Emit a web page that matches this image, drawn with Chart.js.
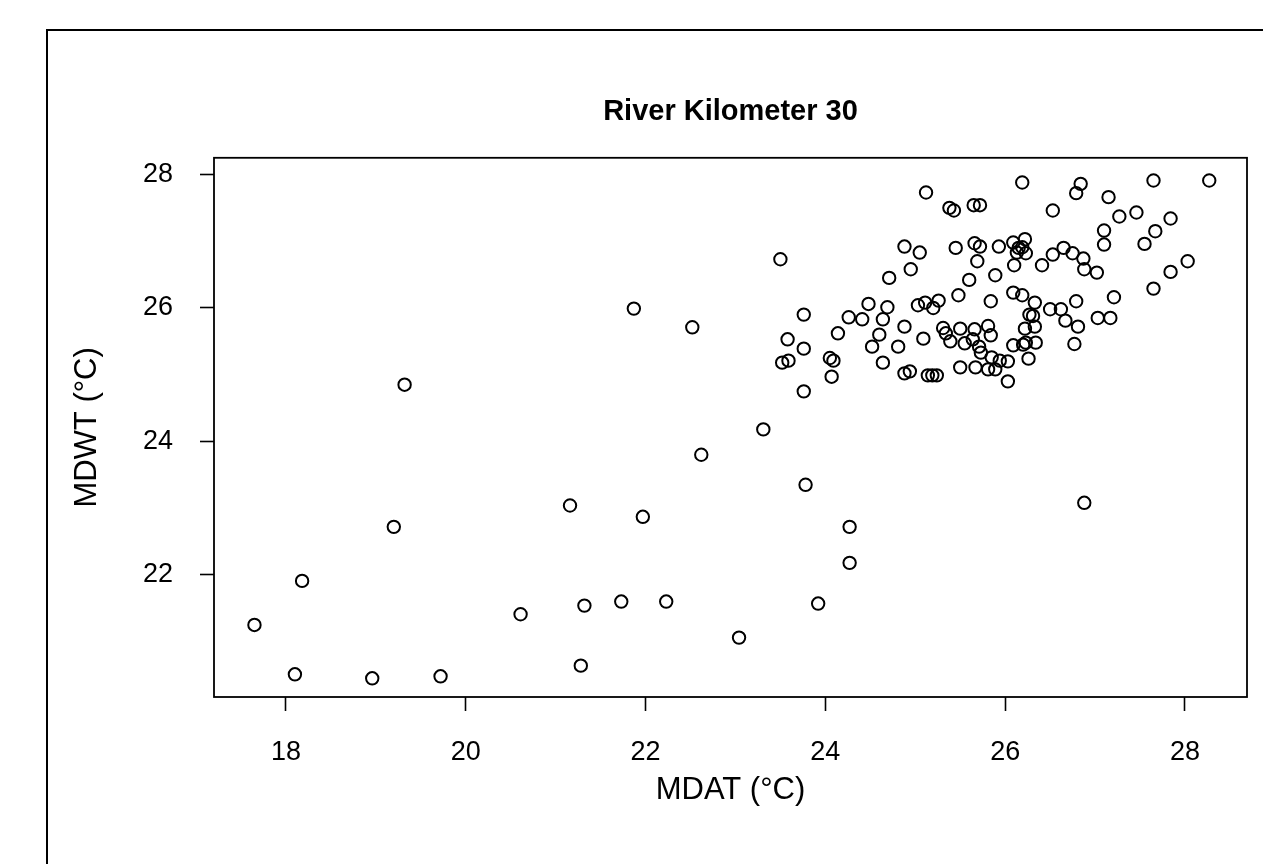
<!DOCTYPE html>
<html>
<head>
<meta charset="utf-8">
<script src="https://cdn.jsdelivr.net/npm/chart.js@4"></script>
<style>
  html, body { margin: 0; padding: 0; background: #fff; }
  #wrap { width: 1263px; height: 864px; }
</style>
</head>
<body>
<div id="wrap"><canvas id="c" width="1263" height="864"></canvas></div>
<script>
const chartTitle = 'River Kilometer 30';
const xLabel = 'MDAT (°C)';
const yLabel = 'MDWT (°C)';
const xTicks = [18, 20, 22, 24, 26, 28];
const yTicks = [22, 24, 26, 28];

const mdat = [
  17.65, 18.10, 18.18, 18.96, 19.20, 19.32, 19.72, 20.61, 21.16, 21.28,
  21.32, 21.73, 21.87, 21.97, 22.23, 22.52, 22.62, 23.04, 23.31, 23.50,
  23.78, 23.92, 24.27, 24.27, 26.88, 23.52, 23.59, 23.58, 23.76, 23.76,
  23.76, 24.05, 24.09, 24.07, 24.14, 24.26, 24.41, 24.48, 24.52, 24.60,
  24.64, 24.64, 24.69, 24.71, 24.81, 24.88, 24.88, 24.94, 24.88, 24.95,
  25.05, 25.12, 25.38, 25.43, 25.65, 25.72, 26.19, 25.45, 25.66, 25.72,
  25.69, 25.93, 26.09, 26.15, 26.22, 26.23, 26.13, 26.10, 25.89, 25.60,
  25.48, 25.84, 26.09, 26.19, 26.33, 26.31, 26.33, 26.22, 25.03, 25.11,
  25.20, 25.26, 25.09, 25.31, 25.34, 25.50, 25.66, 25.81, 25.84, 25.39,
  25.55, 25.64, 25.71, 25.73, 25.85, 25.94, 26.03, 26.09, 26.20, 26.26,
  25.50, 25.67, 25.81, 25.89, 26.03, 25.14, 25.19, 25.24, 26.19, 26.41,
  26.53, 26.65, 26.75, 26.87, 26.88, 27.02, 26.50, 26.62, 26.79, 27.21,
  27.03, 27.17, 26.67, 26.81, 26.23, 26.34, 26.77, 26.27, 26.84, 26.79,
  27.15, 26.53, 27.27, 27.46, 27.10, 27.10, 27.55, 27.67, 27.84, 27.65,
  28.27, 28.03, 27.84, 27.65
];
const mdwt = [
  21.25, 20.51, 21.91, 20.45, 22.72, 24.85, 20.48, 21.41, 23.04, 20.64,
  21.54, 21.60, 25.99, 22.87, 21.60, 25.71, 23.80, 21.06, 24.18, 26.73,
  23.35, 21.57, 22.72, 22.18, 23.08, 25.18, 25.21, 25.53, 25.39, 25.90,
  24.75, 25.25, 25.21, 24.97, 25.62, 25.86, 25.83, 26.06, 25.42, 25.60,
  25.83, 25.18, 26.01, 26.45, 25.42, 25.72, 25.02, 25.05, 26.92, 26.58,
  26.83, 27.73, 27.50, 27.46, 27.54, 27.54, 27.88, 26.90, 26.97, 26.92,
  26.70, 26.92, 26.98, 26.90, 27.03, 26.82, 26.83, 26.64, 26.49, 26.42,
  26.19, 26.10, 26.23, 26.19, 26.08, 25.88, 25.72, 25.69, 26.04, 26.08,
  26.00, 26.11, 25.54, 25.70, 25.62, 25.69, 25.68, 25.73, 25.59, 25.50,
  25.47, 25.53, 25.42, 25.33, 25.26, 25.21, 25.20, 25.44, 25.45, 25.24,
  25.11, 25.11, 25.08, 25.08, 24.90, 24.99, 24.99, 24.99, 26.91, 26.64,
  26.80, 26.90, 26.82, 26.74, 26.58, 26.53, 25.98, 25.98, 26.10, 26.16,
  25.85, 25.85, 25.81, 25.72, 25.48, 25.48, 25.46, 25.90, 27.86, 27.72,
  27.66, 27.46, 27.37, 27.43, 27.16, 26.95, 26.96, 27.15, 27.34, 27.91,
  27.91, 26.70, 26.54, 26.29
];

const FONT = '"Liberation Sans", Arial, Helvetica, sans-serif';

const framePlugin = {
  id: 'frame',
  beforeDraw(chart) {
    const ctx = chart.ctx;
    ctx.save();
    ctx.fillStyle = '#fff';
    ctx.fillRect(0, 0, chart.width, chart.height);
    ctx.strokeStyle = '#000';
    ctx.lineWidth = 2;
    ctx.beginPath();
    ctx.moveTo(47, chart.height + 2);
    ctx.lineTo(47, 30);
    ctx.lineTo(chart.width + 2, 30);
    ctx.stroke();
    ctx.restore();
  },
  afterDraw(chart) {
    const a = chart.chartArea;
    const ctx = chart.ctx;
    ctx.save();
    ctx.strokeStyle = '#000';
    ctx.lineWidth = 1.8;
    ctx.strokeRect(a.left, a.top, a.right - a.left, a.bottom - a.top);
    ctx.restore();
  }
};

new Chart(document.getElementById('c'), {
  type: 'scatter',
  data: {
    datasets: [{
      data: mdat.map((x, i) => ({ x: x, y: mdwt[i] })),
      pointStyle: 'circle',
      pointRadius: 6.2,
      pointHoverRadius: 6.2,
      borderColor: '#000',
      backgroundColor: 'rgba(0,0,0,0)',
      borderWidth: 2
    }]
  },
  options: {
    responsive: false,
    animation: false,
    events: [],
    layout: { padding: { left: 0, right: 16, top: 0, bottom: 0 } },
    plugins: {
      legend: { display: false },
      tooltip: { enabled: false },
      title: {
        display: true,
        fullSize: false,
        text: chartTitle,
        color: '#000',
        font: { family: FONT, size: 29, weight: 'bold' },
        padding: { top: 95, bottom: 28 }
      }
    },
    scales: {
      x: {
        type: 'linear',
        min: 17.2,
        max: 28.69,
        afterFit(scale) { scale.height = 167; },
        afterBuildTicks(scale) { scale.ticks = xTicks.map(v => ({ value: v })); },
        ticks: {
          color: '#000',
          font: { family: FONT, size: 27 },
          padding: 25,
          maxRotation: 0,
          autoSkip: false,
          callback: v => String(v)
        },
        grid: {
          display: true,
          drawOnChartArea: false,
          drawTicks: true,
          tickLength: 14,
          tickColor: '#000',
          tickWidth: 1.6
        },
        border: { display: false },
        title: {
          display: true,
          text: xLabel,
          color: '#000',
          font: { family: FONT, size: 31 },
          padding: { top: 0, bottom: 55 }
        }
      },
      y: {
        type: 'linear',
        min: 20.17,
        max: 28.25,
        afterFit(scale) { scale.width = 214; },
        afterBuildTicks(scale) { scale.ticks = yTicks.map(v => ({ value: v })); },
        ticks: {
          color: '#000',
          font: { family: FONT, size: 27 },
          padding: 27,
          autoSkip: false,
          callback: v => String(v)
        },
        grid: {
          display: true,
          drawOnChartArea: false,
          drawTicks: true,
          tickLength: 14,
          tickColor: '#000',
          tickWidth: 1.6
        },
        border: { display: false },
        title: {
          display: true,
          text: yLabel,
          color: '#000',
          font: { family: FONT, size: 31 },
          padding: { top: 69, bottom: 0 }
        }
      }
    }
  },
  plugins: [framePlugin]
});
</script>
</body>
</html>
